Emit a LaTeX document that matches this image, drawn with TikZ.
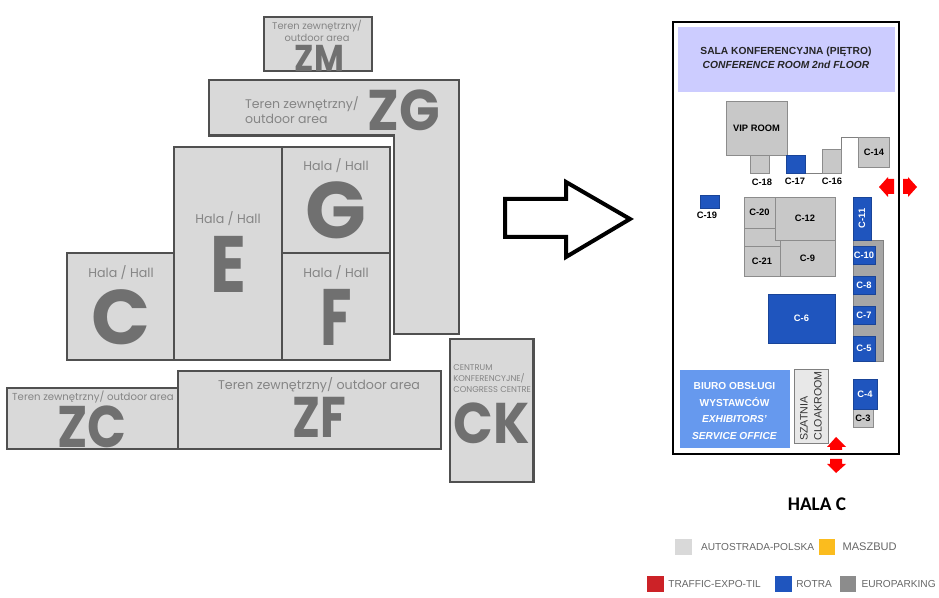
\documentclass[tikz,border=0pt]{standalone}
\usepackage{fontspec}
\setmainfont{Liberation Sans}
\newfontfamily\gothic{Poppins}
\newfontfamily\hallfont{Carlito}
\usetikzlibrary{positioning}
\definecolor{hallgray}{HTML}{D9D9D9}
\definecolor{edgegray}{HTML}{505050}
\definecolor{markgray}{HTML}{707070}
\definecolor{areagray}{HTML}{858585}
\definecolor{standgray}{HTML}{C8C8C8}
\definecolor{rotrablue}{HTML}{1F55BE}
\definecolor{confviolet}{HTML}{CCCCFF}
\definecolor{officeblue}{HTML}{6699EE}
\definecolor{maszyellow}{HTML}{FBBC1E}
\definecolor{trafficred}{HTML}{CC2227}
\newcommand{\gsize}[1]{\fontsize{#1pt}{1.2\dimexpr #1pt\relax}\selectfont}
\newcommand{\squeeze}[2]{\scalebox{#1}[1]{#2}}

\begin{document}
\begin{tikzpicture}[
      x=0.75pt, y=-0.75pt,
      hall/.style={draw=edgegray, fill=hallgray, line width=1.6pt},
      bigmark/.style={text=markgray, font=\gothic\bfseries\gsize{#1}, inner sep=0pt},
      areatext/.style={text=areagray, font=\gothic\gsize{#1}, align=center, inner sep=0pt},
      stand/.style={draw=gray!90, fill=standgray, line width=0.7pt},
      blue stand/.style={draw=rotrablue!80!black, fill=rotrablue, line width=0.5pt},
      stand text/.style={font=\bfseries\fontsize{7}{8}\selectfont, inner sep=0pt},
      exit/.style={fill=red, draw=none},
      legend box/.style={minimum size=12.5pt, inner sep=0pt},
      legend text/.style={anchor=west, text=gray!80!black, font=\fontsize{7.6}{9}\selectfont, inner sep=0pt}
    ]
    \useasboundingbox (0,0) rectangle (939,598);

    % Halls on the left
    \path[hall] (264,17) rectangle (372,71);
    \path[hall] (209,80) -- (459,80) -- (459,334) -- (394,334) -- (394,135.5) -- (209,135.5) -- cycle;
    \path[hall] (174,147) rectangle (282,360);
    \path[hall] (282,147) rectangle (390,253);
    \path[hall] (282,253) rectangle (390,360);
    \path[hall] (67,253) rectangle (174,360);
    \path[hall] (7,388) rectangle (178,449);
    \path[hall] (178,371) rectangle (441,449);
    \path[hall] (450,339) rectangle (533.5,482);

    \node[areatext=7.4] (zmtext) at (317,30.5) {Teren zewnętrzny/\\outdoor area};
    \node[bigmark=28] (zm) at (319.5,58) {\squeeze{.87}{ZM}};
    \node[areatext=9.4, align=left] (zgtext) at (302,110) {Teren zewnętrzny/\\outdoor area};
    \node[bigmark=43] (zg) at (404,110.5) {\squeeze{.93}{ZG}};
    \node[areatext=9.5] (gtext) at (336,166) {Hala / Hall};
    \node[bigmark=60] (g) at (336,210) {G};
    \node[areatext=9.5] (etext) at (228,219) {Hala / Hall};
    \node[bigmark=60] (e) at (228,264) {\squeeze{.83}{E}};
    \node[areatext=9.5] (ftext) at (336,272.5) {Hala / Hall};
    \node[bigmark=60] (f) at (336,317) {\squeeze{.72}{F}};
    \node[areatext=9.5] (ctext) at (121,272.5) {Hala / Hall};
    \node[bigmark=58] (c) at (121,317) {C};
    \node[areatext=7.6] (zctext) at (93,397) {Teren zewnętrzny/ outdoor area};
    \node[bigmark=44] (zc) at (92,427) {\squeeze{.87}{ZC}};
    \node[areatext=9.5] (zftext) at (319,385) {Teren zewnętrzny/ outdoor area};
    \node[bigmark=43] (zf) at (319.5,417) {\squeeze{.82}{ZF}};
    \node[areatext=6.3, align=left, anchor=west] (cktext) at (453,378.5) {CENTRUM\\[1pt]KONFERENCYJNE/\\[1pt]CONGRESS CENTRE};
    \node[bigmark=43] (ck) at (491.5,423) {\squeeze{.91}{CK}};

    % Big arrow
    \draw[line width=3pt, fill=white, line join=miter] (505,199) -- (566,199) -- (566,182) -- (630,219)
      -- (566,257) -- (566,237) -- (505,237) -- cycle;

    % Plan of hall C
    \draw[line width=1.8pt] (673,22) rectangle (899,454);
    \path[fill=confviolet] (678,27) rectangle (895,92);
    \node[align=center, font=\bfseries\fontsize{7.7}{10.5}\selectfont, text=black!85, inner sep=0pt] (conf) at (786,57.5)
      {SALA KONFERENCYJNA (PIĘTRO)\\\textit{CONFERENCE ROOM 2nd FLOOR}};

    \draw[gray, line width=0.5pt] (805,173) -- (823,173);
    \draw[gray, line width=0.7pt] (841,149) -- (841,137) -- (858,137);

    % Grey stands: x1/y1/x2/y2/label
    \foreach \xa/\ya/\xb/\yb/\lab in {
        726/101/787/155/VIP ROOM, 750/155/769/173/, 822.5/149/841/173/,
        858.5/137/889.5/167/C-14, 744/197/775/228/C-20, 744/228/780/246/,
        744/246/780/276/C-21, 775/197/835/240/C-12, 780/240/835/276/C-9,
        853/409/873/427/C-3}
      \path[stand] (\xa,\ya) rectangle (\xb,\yb) node[midway, stand text] {\lab};
    \path[stand, fill=gray!70, draw=gray] (853,240) rectangle (883,361);

    % Blue stands
    \foreach \xa/\ya/\xb/\yb/\lab in {
        786/155/805/173/, 700/195.5/719/208/, 853/246/875/264/C-10, 853/276/875/294.5/C-8,
        853/306/875/324.5/C-7, 853/336/875/361/C-5, 768/294/835/343/C-6, 853/379/877/409/C-4}
      \path[blue stand] (\xa,\ya) rectangle (\xb,\yb) node[midway, stand text, text=white] {\lab};
    \path[blue stand] (853,197) rectangle (871,240) node[midway, stand text, text=white, rotate=90] {C-11};

    \node[stand text] (c18) at (762,182) {C-18};
    \node[stand text] (c17) at (795,181) {C-17};
    \node[stand text] (c16) at (832,181) {C-16};
    \node[stand text] (c19) at (707,215) {C-19};

    \path[fill=officeblue] (680,370) rectangle (789.5,448);
    \node[align=center, text=white, font=\bfseries\fontsize{7.6}{12.7}\selectfont, inner sep=0pt] (office) at (734.5,411)
      {BIURO OBSŁUGI\\WYSTAWCÓW\\\textit{EXHIBITORS'}\\\textit{SERVICE OFFICE}};
    \path[draw=gray, fill=gray!18, line width=0.7pt] (794,369) rectangle (828,443.5);
    \node[rotate=90, align=left, text=black!80, font=\fontsize{8}{10.5}\selectfont, inner sep=0pt] (cloak) at (811,406)
      {SZATNIA\\CLOAKROOM};

    % Exits
    \path[exit] (836,437) -- (846,447) -- (842,447) -- (842,450) -- (830,450) -- (830,447) -- (827,447) -- cycle;
    \path[exit] (836,473) -- (846,464) -- (842,464) -- (842,459) -- (830,459) -- (830,464) -- (827,464) -- cycle;
    \path[exit] (879,187) -- (888,177) -- (888,179) -- (894,179) -- (894,194) -- (888,194) -- (888,197) -- cycle;
    \path[exit] (917,187) -- (908,177) -- (908,179) -- (903,179) -- (903,194) -- (908,194) -- (908,197) -- cycle;

    \node[font=\hallfont\bfseries\fontsize{14.5}{16}\selectfont, inner sep=0pt] (halac) at (817,504) {HALA C};

    % Legend
    \node[legend box, fill=hallgray] (autobox) at (683.5,547) {};
    \node[legend text, right=6.5pt of autobox.east, anchor=west] (autotext) {AUTOSTRADA-POLSKA};
    \node[legend box, fill=maszyellow] (maszbox) at (827,547) {};
    \node[legend text, right=5pt of maszbox.east, anchor=west, font=\fontsize{8.3}{9}\selectfont] (masztext) {MASZBUD};
    \node[legend box, fill=trafficred] (trafbox) at (655.5,584) {};
    \node[legend text, right=3pt of trafbox.east, anchor=west] (traftext) {TRAFFIC-EXPO-TIL};
    \node[legend box, fill=rotrablue] (rotrabox) at (783.5,584) {};
    \node[legend text, right=3pt of rotrabox.east, anchor=west] (rotratext) {ROTRA};
    \node[legend box, fill=gray!90] (eurobox) at (848,584) {};
    \node[legend text, right=3.5pt of eurobox.east, anchor=west] (eurotext) {EUROPARKING};
\end{tikzpicture}
\end{document}
